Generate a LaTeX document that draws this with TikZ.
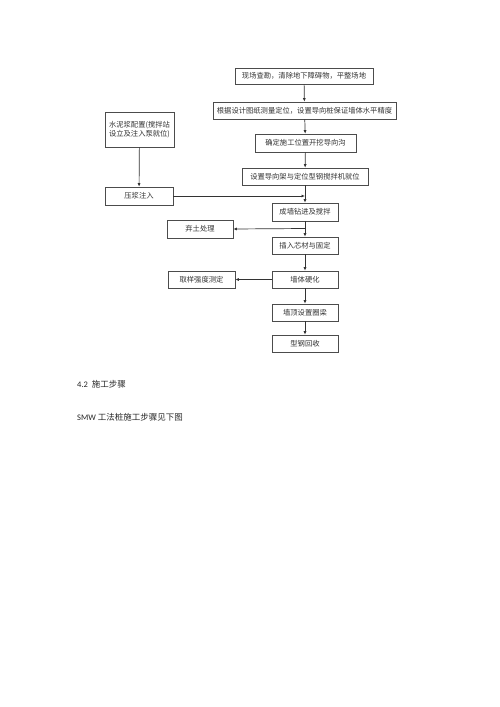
\documentclass[tikz,border=0pt]{standalone}
\usepackage{fontspec}
\setmainfont{Carlito}
\newfontfamily\cjk{Noto Sans CJK SC}
\usetikzlibrary{arrows.meta}
\begin{document}
\begin{tikzpicture}[x=1pt,y=-1pt,
  bx/.style={draw=black!70,line width=0.6pt,inner sep=1pt,font=\cjk\fontsize{7.3}{8.6}\selectfont,text=black!80,align=center},
  ar/.style={draw=black!80,line width=0.7pt,-{Latex[length=3.5pt,width=3pt]}},
  ln/.style={draw=black!80,line width=0.7pt}]
\useasboundingbox (0,0) rectangle (500,707);
\fill[white] (0,0) rectangle (500,707);
\node[bx,minimum width=138pt,minimum height=16pt] (b1) at (304,76) {现场查勘，清除地下障碍物，平整场地};
\node[bx,minimum width=183pt,minimum height=17pt] (b2) at (304.5,110.5) {根据设计图纸测量定位，设置导向桩保证墙体水平精度};
\node[bx,minimum width=101pt,minimum height=18pt] (b3) at (305.5,143) {确定施工位置开挖导向沟};
\node[bx,minimum width=126pt,minimum height=17pt] (b4) at (305,176.5) {设置导向架与定位型钢搅拌机就位};
\node[bx,minimum width=69pt,minimum height=35pt,align=left] (l1) at (139.5,129.5) {水泥浆配置(搅拌站\\设立及注入泵就位)};
\node[bx,minimum width=68pt,minimum height=18pt] (l2) at (139,196) {压浆注入};
\node[bx,minimum width=66pt,minimum height=18pt] (c1) at (305,212) {成墙钻进及搅拌};
\node[bx,minimum width=66pt,minimum height=18pt] (q1) at (200,229) {弃土处理};
\node[bx,minimum width=66pt,minimum height=17pt] (c2) at (305,245.5) {插入芯材与固定};
\node[bx,minimum width=66pt,minimum height=17pt] (c3) at (305,279.5) {墙体硬化};
\node[bx,minimum width=67pt,minimum height=17pt] (q2) at (201.5,279.5) {取样强度测定};
\node[bx,minimum width=66pt,minimum height=17pt] (c4) at (305,312.5) {墙顶设置圈梁};
\node[bx,minimum width=66pt,minimum height=17pt] (c5) at (305,343.5) {型钢回收};
\coordinate (j1) at (305,196);
\coordinate (j2) at (305,228.5);
\draw[ar] (b1) -- (b2);
\draw[ar] (b2) -- (b3);
\draw[ar] (b3) -- (b4);
\draw[ar] (b4) -- (c1);
\draw[ar] (l1) -- (l2);
\draw[ar] (l2.east) -- (j1);
\draw[ar] (c1) -- (c2);
\draw[ar] (j2) -- (q1.east);
\draw[ar] (c2) -- (c3);
\draw[ar] (c3) -- (q2);
\draw[ar] (c3) -- (c4);
\draw[ar] (c4) -- (c5);
\node[anchor=west,inner sep=0pt,font=\fontsize{8.5}{10}\selectfont,text=black!85] (t1) at (77,384) {4.2\ \ {\cjk 施工步骤}};
\node[anchor=west,inner sep=0pt,font=\fontsize{8.5}{10}\selectfont,text=black!85] (t2) at (77,417) {SMW {\cjk 工法桩施工步骤见下图}};
\end{tikzpicture}
\end{document}
